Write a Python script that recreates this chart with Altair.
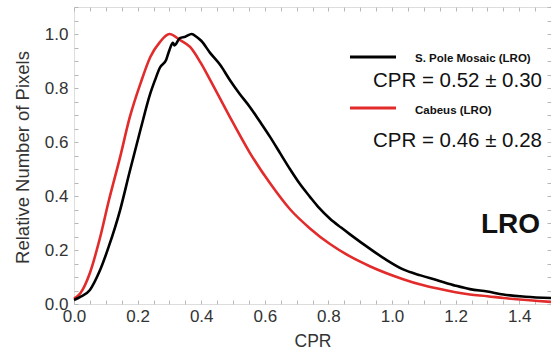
import altair as alt
import pandas as pd

# --- data -------------------------------------------------------------------
pole_cpr = [0.00, 0.02, 0.05, 0.08, 0.11, 0.145, 0.175, 0.21, 0.24, 0.255, 0.27,
            0.29, 0.30, 0.311, 0.316, 0.333, 0.35, 0.37, 0.385, 0.40, 0.428, 0.46,
            0.49, 0.52, 0.553, 0.585, 0.616, 0.65, 0.68, 0.71, 0.742, 0.77, 0.805,
            0.84, 0.868, 0.93, 0.98, 1.035, 1.09, 1.14, 1.20, 1.245, 1.30, 1.35,
            1.42, 1.50]
pole_val = [0.015, 0.026, 0.052, 0.12, 0.215, 0.348, 0.49, 0.65, 0.78, 0.83, 0.875,
            0.905, 0.94, 0.967, 0.958, 0.985, 0.99, 1.0, 0.99, 0.975, 0.93, 0.885,
            0.83, 0.78, 0.73, 0.675, 0.62, 0.555, 0.498, 0.445, 0.397, 0.357, 0.316,
            0.283, 0.258, 0.205, 0.165, 0.128, 0.106, 0.089, 0.068, 0.055, 0.046,
            0.035, 0.027, 0.022]

cabeus_cpr = [0.00, 0.02, 0.05, 0.08, 0.11, 0.145, 0.175, 0.21, 0.24, 0.27, 0.30,
              0.333, 0.365, 0.40, 0.428, 0.49, 0.553, 0.616, 0.68, 0.742, 0.805,
              0.868, 0.93, 1.035, 1.09, 1.14, 1.245, 1.30, 1.35, 1.50]
cabeus_val = [0.02, 0.04, 0.115, 0.237, 0.385, 0.544, 0.69, 0.82, 0.915, 0.97, 1.0,
              0.978, 0.952, 0.89, 0.83, 0.693, 0.56, 0.448, 0.35, 0.28, 0.222,
              0.176, 0.14, 0.092, 0.072, 0.058, 0.035, 0.029, 0.022, 0.008]

series_names = ["S. Pole Mosaic (LRO)", "Cabeus (LRO)"]
series_stats = ["CPR = 0.52 \u00b1 0.30", "CPR = 0.46 \u00b1 0.28"]
panel_label = "LRO"

x_label_values = [0.0, 0.2, 0.4, 0.6, 0.8, 1.0, 1.2, 1.4]
y_label_values = [0.0, 0.2, 0.4, 0.6, 0.8, 1.0]
x_minor = [i * 0.05 for i in range(31)]
y_minor = [i * 0.05 for i in range(23)]

pole = pd.DataFrame({"cpr": pole_cpr, "val": pole_val})
cabeus = pd.DataFrame({"cpr": cabeus_cpr, "val": cabeus_val})
one = pd.DataFrame({"k": [0]})

W, H = 477, 297
FONT = "Liberation Sans"
GREY = "#b8b8b8"
LBL = "#333333"
RED = "#e22b2b"

xs = alt.Scale(domain=[0, 1.5], nice=False, zero=False)
ys = alt.Scale(domain=[0, 1.1], nice=False, zero=False)

# layer with labels/titles (red curve)
red = alt.Chart(cabeus).mark_line(color=RED, strokeWidth=2.6, interpolate="monotone").encode(
    x=alt.X("cpr:Q", scale=xs, axis=alt.Axis(
        orient="bottom", values=x_label_values, format=".1f", ticks=False, tickSize=0,
        domain=False, grid=False, labelFlush=False, labelFont=FONT, labelFontSize=17,
        labelColor=LBL, labelPadding=4, title="CPR", titleFont=FONT, titleFontSize=17.5,
        titleFontWeight="normal", titleColor=LBL, titleBaseline="alphabetic",
        titleY=42, titleX=W / 2)),
    y=alt.Y("val:Q", scale=ys, axis=alt.Axis(
        orient="left", values=y_label_values, format=".1f", ticks=False, tickSize=0,
        domain=False, grid=False, labelFlush=False, labelFont=FONT, labelFontSize=17,
        labelColor=LBL, labelPadding=6, title="Relative Number of Pixels", titleFont=FONT,
        titleFontSize=18.5, titleFontWeight="normal", titleColor=LBL,
        titleBaseline="middle", titleX=-52, titleY=150)),
)

# black curve carries inward ticks on bottom and left
black = alt.Chart(pole).mark_line(color="black", strokeWidth=2.6, interpolate="monotone").encode(
    x=alt.X("cpr:Q", scale=xs, axis=alt.Axis(
        orient="top", offset=-H, values=x_minor, labels=False, domain=False, grid=False,
        ticks=True, tickSize=4, tickColor=GREY, title="")),
    y=alt.Y("val:Q", scale=ys, axis=alt.Axis(
        orient="right", offset=-W, values=y_minor, labels=False, domain=False, grid=False,
        ticks=True, tickSize=4, tickColor=GREY, title="")),
)

# invisible copy carrying inward ticks on top and right
ghost = alt.Chart(pole).mark_line(strokeOpacity=0).encode(
    x=alt.X("cpr:Q", scale=xs, axis=alt.Axis(
        orient="bottom", offset=-H, values=x_minor, labels=False, domain=False, grid=False,
        ticks=True, tickSize=4, tickColor=GREY, title="")),
    y=alt.Y("val:Q", scale=ys, axis=alt.Axis(
        orient="left", offset=-W, values=y_minor, labels=False, domain=False, grid=False,
        ticks=True, tickSize=4, tickColor=GREY, title="")),
)

leg_black = alt.Chart(one).mark_rule(color="black", strokeWidth=3).encode(
    x=alt.value(276), x2=alt.value(322), y=alt.value(50))
leg_red = alt.Chart(one).mark_rule(color=RED, strokeWidth=3).encode(
    x=alt.value(276), x2=alt.value(322), y=alt.value(101))


def txt(s, x, y, size, weight="normal", align="left", baseline="middle"):
    return alt.Chart(one).mark_text(
        font=FONT, fontSize=size, fontWeight=weight, align=align, baseline=baseline,
        color="#111111").encode(text=alt.value(s), x=alt.value(x), y=alt.value(y))


t1 = txt(series_names[0], 341, 52, 11.5, "bold")
t2 = txt(series_stats[0], 468, 80, 20.5, align="right", baseline="alphabetic")
t3 = txt(series_names[1], 341, 104, 11.5, "bold")
t4 = txt(series_stats[1], 468, 140, 20.5, align="right", baseline="alphabetic")
t5 = txt(panel_label, 466, 226, 28, "bold", align="right", baseline="alphabetic")

chart = alt.layer(ghost, red, black, leg_black, leg_red, t1, t2, t3, t4, t5).resolve_axis(
    x="independent", y="independent"
).properties(
    width=W, height=H,
    autosize=alt.AutoSizeParams(type="none"),
    padding={"left": 74, "top": 7, "right": 0, "bottom": 50},
).configure_view(stroke=GREY, strokeWidth=1).configure(background="white")

chart.save("out.html", embed_options={"renderer": "svg", "actions": False})
